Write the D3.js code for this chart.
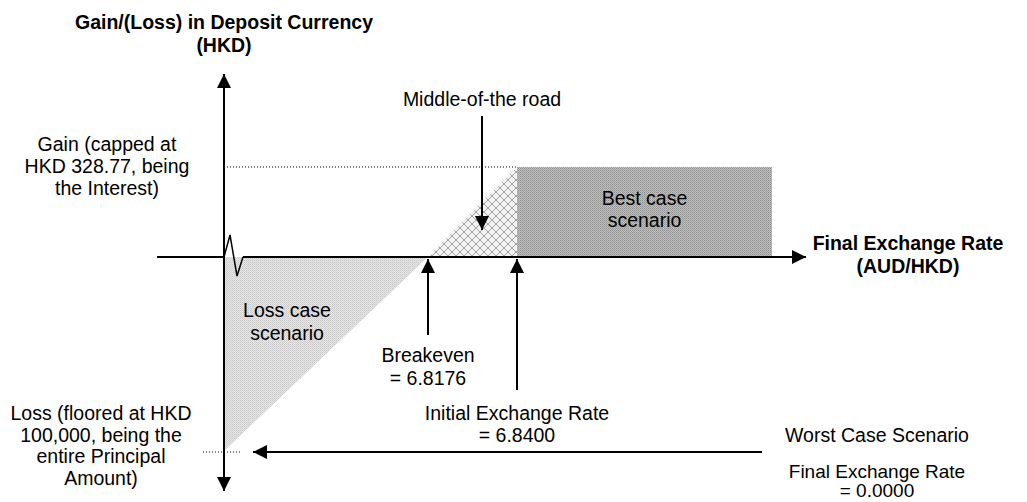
<!DOCTYPE html>
<html>
<head>
<meta charset="utf-8">
<script src="https://cdn.jsdelivr.net/npm/d3@7"></script>
<style>
  body { margin: 0; background: #fff; }
  svg { display: block; font-family: "Liberation Sans", Arial, sans-serif; }
</style>
</head>
<body>
<svg id="chart" width="1027" height="502"></svg>
<script>
// values of the payoff sketch
const keyRates = [0, 6.8176, 6.84];                 // worst case, breakeven, initial rate
const keyRateLabels = [
  ["Final Exchange Rate", "= 0.0000"],
  ["Breakeven", "= 6.8176"],
  ["Initial Exchange Rate", "= 6.8400"]
];
const payoffLevels = [-100000, 0, 328.77];          // floor, zero, cap (HKD)
const bestCaseEnd = 6.88;
const axisRates = [-0.6, 6.89];                     // where the x axis starts and ends
const gainText = ["Gain (capped at", "HKD 328.77, being", "the Interest)"];
const lossText = ["Loss (floored at HKD", "100,000, being the", "entire Principal", "Amount)"];
const scenarioText = [["Loss case", "scenario"], ["Middle-of-the road"], ["Best case", "scenario"]];
const worstText = ["Worst Case Scenario"];
const yTitle = ["Gain/(Loss) in Deposit Currency", "(HKD)"];
const xTitle = ["Final Exchange Rate", "(AUD/HKD)"];

const [worstRate, breakeven, initialRate] = keyRates;
const [floorLoss, zero, capGain] = payoffLevels;

const svg = d3.select("#chart");
const fs = 19.5;

// schematic (piecewise) scales: the picture is not drawn to scale
const x = d3.scaleLinear()
  .domain([axisRates[0], worstRate, breakeven, initialRate, bestCaseEnd, axisRates[1]])
  .range([157, 224, 428, 517, 772, 806]);
const y = d3.scaleLinear()
  .domain([floorLoss, zero, capGain])
  .range([451, 257, 167]);

const defs = svg.append("defs");

defs.append("marker")
  .attr("id", "arrow")
  .attr("viewBox", "0 -7 14 14")
  .attr("refX", 14).attr("refY", 0)
  .attr("markerWidth", 14).attr("markerHeight", 14)
  .attr("markerUnits", "userSpaceOnUse")
  .attr("orient", "auto")
  .append("path")
  .attr("d", "M0,-7L14,0L0,7Z")
  .attr("fill", "#000");

// light stipple for the loss area
const pLoss = defs.append("pattern").attr("id", "lossFill")
  .attr("width", 2).attr("height", 2).attr("patternUnits", "userSpaceOnUse");
pLoss.append("rect").attr("width", 2).attr("height", 2).attr("fill", "#e6e6e6");
pLoss.append("rect").attr("width", 1).attr("height", 1).attr("fill", "#c8c8c8");
pLoss.append("rect").attr("x", 1).attr("y", 1).attr("width", 1).attr("height", 1).attr("fill", "#d4d4d4");

// cross hatch for the middle-of-the-road area
const pMid = defs.append("pattern").attr("id", "midFill")
  .attr("width", 8).attr("height", 8).attr("patternUnits", "userSpaceOnUse");
pMid.append("rect").attr("width", 8).attr("height", 8).attr("fill", "#f2f2f2");
pMid.append("path").attr("d", "M0,0L8,8M8,0L0,8")
  .attr("stroke", "#a4a4a4").attr("stroke-width", 1);

// darker stipple for the best case box
const pBest = defs.append("pattern").attr("id", "bestFill")
  .attr("width", 2).attr("height", 2).attr("patternUnits", "userSpaceOnUse");
pBest.append("rect").attr("width", 2).attr("height", 2).attr("fill", "#c0c0c0");
pBest.append("rect").attr("width", 1).attr("height", 1).attr("fill", "#909090");
pBest.append("rect").attr("x", 1).attr("y", 1).attr("width", 1).attr("height", 1).attr("fill", "#a0a0a0");

// areas
svg.append("path")
  .attr("d", d3.line()([[x(worstRate), y(zero)], [x(breakeven), y(zero)], [x(worstRate), y(floorLoss)]]) + "Z")
  .attr("fill", "url(#lossFill)");

svg.append("path")
  .attr("d", d3.line()([[x(breakeven), y(zero)], [x(initialRate), y(zero)], [x(initialRate), y(capGain)]]) + "Z")
  .attr("fill", "url(#midFill)");

svg.append("rect")
  .attr("x", x(initialRate)).attr("y", y(capGain))
  .attr("width", x(bestCaseEnd) - x(initialRate))
  .attr("height", y(zero) - y(capGain))
  .attr("fill", "url(#bestFill)");

// dotted level guides
svg.append("line")
  .attr("x1", x(worstRate) + 3).attr("x2", x(initialRate))
  .attr("y1", y(capGain)).attr("y2", y(capGain))
  .attr("stroke", "#000").attr("stroke-width", 1).attr("stroke-dasharray", "1,2");
svg.append("line")
  .attr("x1", x(worstRate) - 21).attr("x2", x(worstRate) + 18)
  .attr("y1", y(floorLoss) + 1).attr("y2", y(floorLoss) + 1)
  .attr("stroke", "#000").attr("stroke-width", 1).attr("stroke-dasharray", "1,2");

// axes
const ox = x(worstRate), oy = y(zero);
const axisStroke = g => g.attr("stroke", "#000").attr("stroke-width", 2).attr("fill", "none");

svg.append("line").call(axisStroke)
  .attr("x1", ox).attr("y1", oy).attr("x2", ox).attr("y2", y(capGain) - 93)
  .attr("marker-end", "url(#arrow)");
svg.append("line").call(axisStroke)
  .attr("x1", ox).attr("y1", oy).attr("x2", ox).attr("y2", y(floorLoss) + 40)
  .attr("marker-end", "url(#arrow)");

svg.append("line").call(axisStroke)
  .attr("x1", x(axisRates[0])).attr("y1", oy).attr("x2", ox).attr("y2", oy);
// axis break squiggle
svg.append("path").call(axisStroke)
  .attr("stroke-width", 1.5)
  .attr("d", d3.line()([[ox, oy], [ox + 6, oy - 22], [ox + 13, oy + 19], [ox + 19, oy]]));
svg.append("line").call(axisStroke)
  .attr("x1", ox + 19).attr("y1", oy).attr("x2", x(axisRates[1])).attr("y2", oy)
  .attr("marker-end", "url(#arrow)");

// annotation arrows
const arrows = [
  [[x(initialRate) - 35, y(capGain) - 51], [x(initialRate) - 35, y(zero) - 27]],   // middle of the road
  [[x(breakeven), y(zero) + 78], [x(breakeven), y(zero) + 2]],                     // breakeven
  [[x(initialRate), y(zero) + 133], [x(initialRate), y(zero) + 2]],                // initial rate
  [[762, y(floorLoss) + 1], [x(worstRate) + 29, y(floorLoss) + 1]]                 // worst case
];
svg.selectAll("line.ann").data(arrows).join("line")
  .attr("class", "ann")
  .attr("x1", d => d[0][0]).attr("y1", d => d[0][1])
  .attr("x2", d => d[1][0]).attr("y2", d => d[1][1])
  .attr("stroke", "#000").attr("stroke-width", 2)
  .attr("marker-end", "url(#arrow)");

// text blocks
function block(lines, cx, base, opts = {}) {
  const t = svg.append("text")
    .attr("text-anchor", "middle")
    .attr("font-size", opts.size || fs)
    .attr("font-weight", opts.bold ? "bold" : "normal")
    .attr("fill", "#000");
  lines.forEach((s, i) => {
    t.append("tspan").attr("x", cx).attr("y", base + i * (opts.lh || 22)).text(s);
  });
  return t;
}

block(yTitle, ox, 29, { bold: true, lh: 23 });
block(xTitle, 908, 250, { bold: true, lh: 23 });
block(gainText, 107, 151);
block(lossText, 101, 420, { lh: 21.7 });
block(scenarioText[0], 287, 317, { lh: 23 });
block(scenarioText[1], x(initialRate) - 35, 106);
block(scenarioText[2], (x(initialRate) + x(bestCaseEnd)) / 2, 205);
block(keyRateLabels[1], x(breakeven), 362, { lh: 23 });
block(keyRateLabels[2], x(initialRate), 420);
block(worstText, 877, 442);
block(keyRateLabels[0], 877, 478, { lh: 19, size: 19 });
</script>
</body>
</html>
